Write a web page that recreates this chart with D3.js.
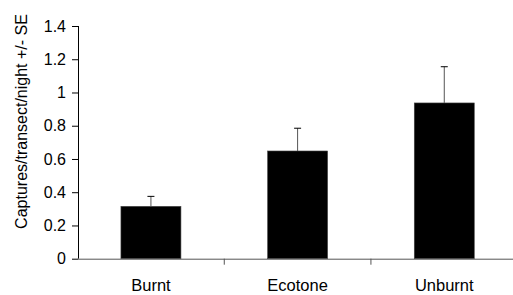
<!DOCTYPE html>
<html><head><meta charset="utf-8">
<script src="https://cdn.jsdelivr.net/npm/d3@7"></script>
<style>body{margin:0;background:#fff}svg{display:block}text{font-family:"Liberation Sans",Arial,sans-serif}</style>
</head><body>
<script>
const categories = ["Burnt", "Ecotone", "Unburnt"];
const means = [0.315, 0.648, 0.937];
const errors = [0.06, 0.137, 0.218];
const yTicks = [0, 0.2, 0.4, 0.6, 0.8, 1, 1.2, 1.4];

const W = 513, H = 295;
const svg = d3.select("body").append("svg").attr("width", W).attr("height", H);
const x = d3.scaleBand().domain(categories).range([77.6, 517.6]).paddingInner(0.591).paddingOuter(0.2955);
const y = d3.scaleLinear().domain([0, 1.4]).range([258.7, 26]);

// bars
svg.selectAll("rect.bar").data(categories).enter().append("rect")
  .attr("x", d => x(d)).attr("width", x.bandwidth())
  .attr("y", (d, i) => y(means[i])).attr("height", (d, i) => y(0) - y(means[i]))
  .attr("fill", "#000").attr("stroke", "#444").attr("stroke-width", 0.6);

// error bars
const eb = svg.selectAll("g.err").data(categories).enter().append("g");
eb.append("line")
  .attr("x1", d => x(d) + x.bandwidth() / 2).attr("x2", d => x(d) + x.bandwidth() / 2)
  .attr("y1", (d, i) => y(means[i])).attr("y2", (d, i) => y(means[i] + errors[i]))
  .attr("stroke", "#555").attr("stroke-width", 1);
eb.append("line")
  .attr("x1", d => x(d) + x.bandwidth() / 2 - 3.5).attr("x2", d => x(d) + x.bandwidth() / 2 + 3.5)
  .attr("y1", (d, i) => y(means[i] + errors[i])).attr("y2", (d, i) => y(means[i] + errors[i]))
  .attr("stroke", "#000").attr("stroke-width", 1);

// y axis
const ya = svg.append("g").attr("transform", "translate(78,0)")
  .call(d3.axisLeft(y).tickValues(yTicks).tickFormat(d => String(d)).tickSize(6).tickPadding(6));
ya.select(".domain").attr("stroke", "#000").attr("d", `M0.5,${y(1.4)}V${y(0)}`);
ya.selectAll(".tick line").attr("stroke", "#000");
ya.selectAll("text").attr("font-size", 16).attr("font-family", "Liberation Sans, Arial, sans-serif").attr("fill", "#000");

// x axis
const xa = svg.append("g").attr("transform", `translate(0,${y(0)})`)
  .call(d3.axisBottom(x).tickSize(0).tickPadding(21));
xa.select(".domain").attr("stroke", "#555").attr("d", `M77.6,0.5H517.6`);
xa.selectAll("text").attr("font-size", 16.5).attr("font-family", "Liberation Sans, Arial, sans-serif").attr("fill", "#000");
// category separator ticks
const seps = categories.slice(1).map(c => x(c) - x.step() * x.paddingInner() / 2);
xa.selectAll("line.sep").data(seps).enter().append("line")
  .attr("x1", d => d).attr("x2", d => d).attr("y1", 0).attr("y2", 6)
  .attr("stroke", "#555");

// y title
svg.append("text")
  .attr("transform", `translate(27,${(13 + 230) / 2}) rotate(-90)`)
  .attr("text-anchor", "middle").attr("font-size", 16).attr("fill", "#000")
  .text("Captures/transect/night +/- SE");
</script>
</body></html>
